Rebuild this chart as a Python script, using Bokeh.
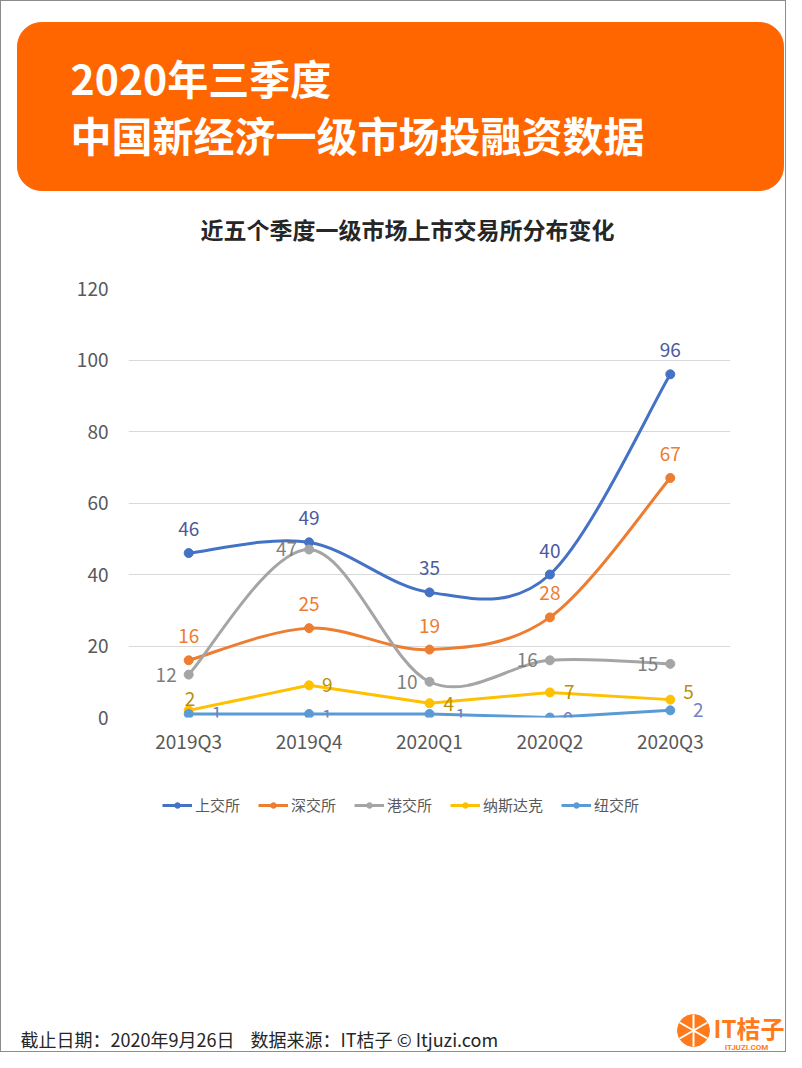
import numpy as np
from bokeh.plotting import figure
from bokeh.layouts import column
from bokeh.models import Range1d, FixedTicker, Legend, LegendItem, ColumnDataSource
from bokeh.core.properties import value
from bokeh.embed import file_html
from bokeh.resources import INLINE

# ---------------- data ----------------
quarters = ["2019Q3", "2019Q4", "2020Q1", "2020Q2", "2020Q3"]
sse = [46, 49, 35, 40, 96]        # 上交所
szse = [16, 25, 19, 28, 67]       # 深交所
hkex = [12, 47, 10, 16, 15]       # 港交所
nasdaq = [2, 9, 4, 7, 5]          # 纳斯达克
nyse = [1, 1, 1, 0, 2]            # 纽交所
series_names = ["上交所", "深交所", "港交所", "纳斯达克", "纽交所"]
y_ticks = [0, 20, 40, 60, 80, 100, 120]

main_title = ["2020年三季度", "中国新经济一级市场投融资数据"]
chart_title = "近五个季度一级市场上市交易所分布变化"
footer_text = "截止日期：2020年9月26日\u00a0\u00a0\u00a0\u00a0数据来源：IT桔子 © Itjuzi.com"

# ---------------- styles ----------------
FONT = "Noto Sans CJK SC"
line_colors = ["#4472C4", "#ED7D31", "#A5A5A5", "#FFC000", "#5B9BD5"]
label_colors = ["#4A5A9E", "#ED7D31", "#7F7F7F", "#B8900A", "#7282C4"]
smooth = [True, True, True, False, False]
label_align = ["center", "center", "right", "left", "center"]
label_dx = [[0] * 5, [0] * 5, [-12] * 5, [-4, 13, 14, 14, 13], [28, 18, 31, 18, 28]]
label_dy = [[-24] * 5, [-24] * 5, [0] * 5, [-11, 0, 1, 0, -8], [0, 3, 2, 1, 0]]

ORANGE = "#FF6600"
LOGO = "#FF7A1A"
W = 784
X0, X1 = 1, 785
NAN = float("nan")


def deco_fig(height, top, bottom):
    f = figure(width=W, height=height, x_range=Range1d(X0, X1), y_range=Range1d(bottom, top),
               output_backend="svg", toolbar_location=None, min_border=0, frame_align=False)
    f.axis.visible = False
    f.grid.visible = False
    f.outline_line_color = None
    f.background_fill_color = "white"
    f.border_fill_color = "white"
    return f


# ---------------- header ----------------
head = deco_fig(262, 1, 263)
head.quad(left=[17], right=[783], top=[22], bottom=[190], color=ORANGE, border_radius=24)
head.text(x=[70], y=[76], text=[main_title[0]], text_font=value(FONT), text_font_style="bold",
          text_font_size="41px", text_color="white", text_baseline="middle", text_align="left")
head.text(x=[70], y=[133], text=[main_title[1]], text_font=value(FONT), text_font_style="bold",
          text_font_size="41px", text_color="white", text_baseline="middle", text_align="left")
head.text(x=[407], y=[228], text=[chart_title], text_font=value(FONT), text_font_style="bold",
          text_font_size="23px", text_color="#262626", text_baseline="middle", text_align="center")

# ---------------- chart ----------------
p = figure(width=W, height=497, x_range=Range1d(-0.5, 4.5), y_range=Range1d(0, 120),
           output_backend="svg", toolbar_location=None, frame_align=False,
           min_border_left=127, min_border_right=55, min_border_top=25, min_border_bottom=43)
p.outline_line_color = None
p.xgrid.visible = False
p.ygrid.grid_line_color = "#D9D9D9"
p.ygrid.grid_line_width = 1
p.yaxis.ticker = FixedTicker(ticks=y_ticks)
p.xaxis.ticker = FixedTicker(ticks=list(range(len(quarters))))
p.xaxis.major_label_overrides = {i: q for i, q in enumerate(quarters)}
for ax in (p.xaxis, p.yaxis):
    ax.axis_line_color = None
    ax.major_tick_line_color = None
    ax.minor_tick_line_color = None
    ax.major_label_text_font = FONT
    ax.major_label_text_font_size = "19px"
    ax.major_label_text_color = "#595959"
p.yaxis.major_label_standoff = 14
p.xaxis.major_label_standoff = 3


def bezier_source(ys):
    n = len(ys)
    xs = list(range(n))

    def P(i):
        i = min(max(i, 0), n - 1)
        return xs[i], ys[i]

    d = dict(x0=[], y0=[], x1=[], y1=[], cx0=[], cy0=[], cx1=[], cy1=[])
    for i in range(n - 1):
        p0, p1, p2, p3 = P(i - 1), P(i), P(i + 1), P(i + 2)
        d["x0"].append(p1[0]); d["y0"].append(p1[1])
        d["x1"].append(p2[0]); d["y1"].append(p2[1])
        d["cx0"].append(p1[0] + (p2[0] - p0[0]) / 6); d["cy0"].append(p1[1] + (p2[1] - p0[1]) / 6)
        d["cx1"].append(p2[0] - (p3[0] - p1[0]) / 6); d["cy1"].append(p2[1] - (p3[1] - p1[1]) / 6)
    return ColumnDataSource(d)


all_series = [sse, szse, hkex, nasdaq, nyse]
label_specs = []
for k, ys in enumerate(all_series):
    xs = list(range(len(ys)))
    c = line_colors[k]
    if smooth[k]:
        p.bezier(x0="x0", y0="y0", x1="x1", y1="y1", cx0="cx0", cy0="cy0", cx1="cx1", cy1="cy1",
                 source=bezier_source(ys), line_color=c, line_width=3)
    else:
        p.line(xs, ys, line_color=c, line_width=3)
    p.scatter(xs, ys, size=9, color=c)
    src = ColumnDataSource(dict(x=xs, y=ys, t=[str(v) for v in ys], dx=label_dx[k], dy=label_dy[k]))
    label_specs.append((k, src))

for k, src in label_specs:
    p.text(x="x", y="y", text="t", source=src, x_offset="dx", y_offset="dy",
           text_font=value(FONT), text_font_size="19px", text_color=label_colors[k],
           text_align=label_align[k], text_baseline="middle")

# ---------------- footer (with legend) ----------------
foot = deco_fig(291, 760, 1051)
items = []
for k, name in enumerate(series_names):
    c = line_colors[k]
    lr = foot.line(x=[NAN], y=[NAN], line_color=c, line_width=3)
    sr = foot.scatter(x=[NAN], y=[NAN], size=8, color=c)
    items.append(LegendItem(label=name, renderers=[lr, sr]))
legend = Legend(items=items, orientation="horizontal", location=(161, 236),
                label_text_font=FONT, label_text_font_size="15px", label_text_color="#595959",
                glyph_width=30, glyph_height=14, label_height=18, spacing=18, label_standoff=3,
                border_line_color=None, background_fill_alpha=0, padding=0, margin=0)
foot.add_layout(legend)

foot.text(x=[20], y=[1038], text=[footer_text], text_font=value(FONT), text_font_size="18px",
          text_color="#262626", text_baseline="middle", text_align="left")
foot.circle(x=[693], y=[1030], radius=16, color=LOGO)
ang = np.deg2rad([90, 30, 150])
foot.segment(x0=list(693 + 16 * np.cos(ang)), y0=list(1030 - 16 * np.sin(ang)),
             x1=list(693 - 16 * np.cos(ang)), y1=list(1030 + 16 * np.sin(ang)),
             line_color="white", line_width=2)
foot.text(x=[713], y=[1027], text=["IT桔子"], text_font=value(FONT), text_font_style="bold",
          text_font_size="24px", text_color=LOGO, text_baseline="middle", text_align="left")
foot.text(x=[746], y=[1047], text=["ITJUZI.COM"], text_font=value("Roboto"), text_font_style="bold",
          text_font_size="8px", text_color=LOGO, text_baseline="middle", text_align="center")

layout = column(head, p, foot, spacing=0, styles={"border": "1px solid #8c8c8c"})
open("out.html", "w").write(file_html(layout, INLINE))
